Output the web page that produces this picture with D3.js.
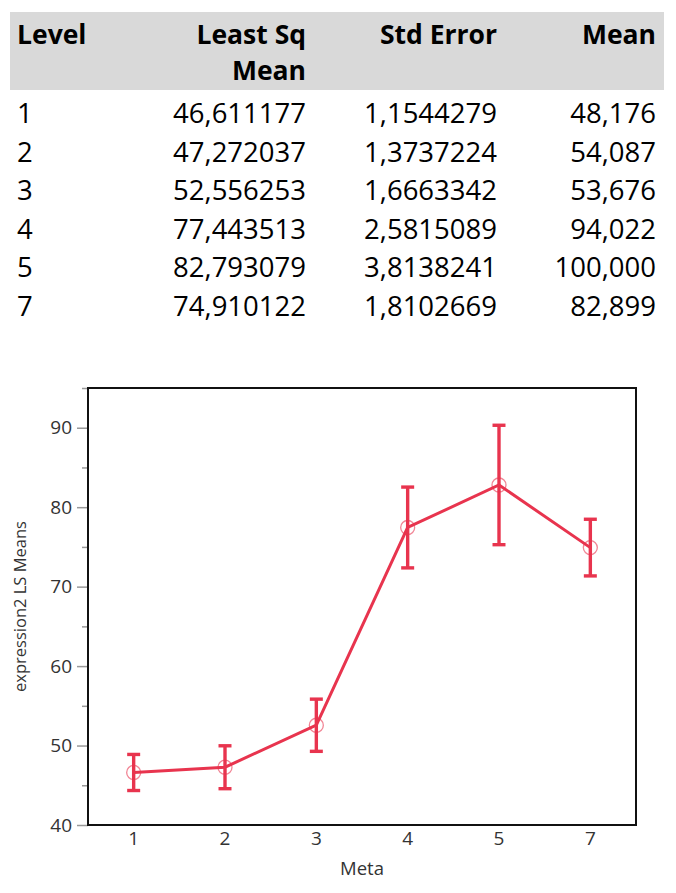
<!DOCTYPE html>
<html><head><meta charset="utf-8">
<script src="https://cdn.jsdelivr.net/npm/d3@7/dist/d3.min.js"></script>
<style>body{margin:0;background:#fff}svg{display:block}</style>
</head><body>
<script>
const levels = ["1","2","3","4","5","7"];
const lsMeanText = ["46,611177","47,272037","52,556253","77,443513","82,793079","74,910122"];
const stdErrText = ["1,1544279","1,3737224","1,6663342","2,5815089","3,8138241","1,8102669"];
const meanText = ["48,176","54,087","53,676","94,022","100,000","82,899"];
const lsMeans = [46.611177, 47.272037, 52.556253, 77.443513, 82.793079, 74.910122];
const ciLower = [44.34, 44.57, 49.27, 72.36, 75.28, 71.35];
const ciUpper = [48.88, 49.97, 55.84, 82.53, 90.31, 78.48];
const yTicks = [40, 50, 60, 70, 80, 90];
const yMinorTicks = [45, 55, 65, 75, 85, 95];

const W = 676, H = 893;
const svg = d3.select("body").append("svg").attr("width", W).attr("height", H);
const font = "'Open Sans', 'Noto Sans', sans-serif";

// ---- table ----
svg.append("rect").attr("x", 10).attr("y", 12).attr("width", 654).attr("height", 78).attr("fill", "#d9d9d9");
const hdr = svg.append("g").attr("font-family", font).attr("font-weight", "bold").attr("font-size", 26.5).attr("fill", "#000");
hdr.append("text").attr("x", 17).attr("y", 44).text("Level");
hdr.append("text").attr("x", 306).attr("y", 44).attr("text-anchor", "end").text("Least Sq");
hdr.append("text").attr("x", 306).attr("y", 80).attr("text-anchor", "end").text("Mean");
hdr.append("text").attr("x", 497).attr("y", 44).attr("text-anchor", "end").text("Std Error");
hdr.append("text").attr("x", 656).attr("y", 44).attr("text-anchor", "end").text("Mean");

const rowY = d3.scalePoint().domain(levels).range([123, 315.5]);
const body = svg.append("g").attr("font-family", font).attr("font-size", 27.5).attr("fill", "#000");
levels.forEach((l, i) => {
  const y = rowY(l);
  body.append("text").attr("x", 17).attr("y", y).text(l);
  body.append("text").attr("x", 306).attr("y", y).attr("text-anchor", "end").text(lsMeanText[i]);
  body.append("text").attr("x", 497).attr("y", y).attr("text-anchor", "end").text(stdErrText[i]);
  body.append("text").attr("x", 656).attr("y", y).attr("text-anchor", "end").text(meanText[i]);
});

// ---- chart ----
const L = 88, R = 636, T = 388, B = 825;
const x = d3.scaleBand().domain(levels).range([L, R]).padding(0);
const y = d3.scaleLinear().domain([40, 95]).range([B, T]);
const cx = d => x(d) + x.bandwidth() / 2;

// y axis
const yAx = svg.append("g").attr("transform", `translate(${L},0)`)
  .call(d3.axisLeft(y).tickValues(yTicks).tickSize(11).tickPadding(5).tickFormat(d3.format("d")));
yAx.select(".domain").remove();
yAx.selectAll("line").attr("stroke", "#999").attr("stroke-width", 1.5);
yAx.selectAll("text").attr("font-family", font).attr("font-size", 19).attr("fill", "#333");
const yMin = svg.append("g").attr("transform", `translate(${L},0)`)
  .call(d3.axisLeft(y).tickValues(yMinorTicks).tickSize(6).tickFormat(""));
yMin.select(".domain").remove();
yMin.selectAll("line").attr("stroke", "#999").attr("stroke-width", 1.5);

// x axis
const xAx = svg.append("g").attr("transform", `translate(0,${B})`)
  .call(d3.axisBottom(x).tickSize(0).tickPadding(6));
xAx.select(".domain").remove();
xAx.selectAll("text").attr("font-family", font).attr("font-size", 19).attr("fill", "#333");

// frame
svg.append("rect").attr("x", L).attr("y", T).attr("width", R - L).attr("height", B - T)
  .attr("fill", "none").attr("stroke", "#111").attr("stroke-width", 2);

// titles
svg.append("text").attr("x", (L + R) / 2).attr("y", 875).attr("text-anchor", "middle")
  .attr("font-family", font).attr("font-size", 18.5).attr("fill", "#333").text("Meta");
svg.append("text").attr("transform", `translate(26,${(T + B) / 2}) rotate(-90)`).attr("text-anchor", "middle")
  .attr("font-family", font).attr("font-size", 16.5).attr("fill", "#333").text("expression2 LS Means");

const red = "#e8344e";
const data = levels.map((l, i) => ({l, m: lsMeans[i], lo: ciLower[i], hi: ciUpper[i]}));

// line
svg.append("path").datum(data)
  .attr("d", d3.line().x(d => cx(d.l)).y(d => y(d.m)))
  .attr("fill", "none").attr("stroke", red).attr("stroke-width", 3);

// error bars
const eb = svg.append("g").attr("stroke", red).attr("stroke-width", 3.4);
data.forEach(d => {
  eb.append("line").attr("x1", cx(d.l)).attr("x2", cx(d.l)).attr("y1", y(d.lo)).attr("y2", y(d.hi));
  eb.append("line").attr("x1", cx(d.l) - 6.5).attr("x2", cx(d.l) + 6.5).attr("y1", y(d.lo)).attr("y2", y(d.lo));
  eb.append("line").attr("x1", cx(d.l) - 6.5).attr("x2", cx(d.l) + 6.5).attr("y1", y(d.hi)).attr("y2", y(d.hi));
});

// markers
svg.append("g").selectAll("circle").data(data).join("circle")
  .attr("cx", d => cx(d.l)).attr("cy", d => y(d.m)).attr("r", 7)
  .attr("fill", "none").attr("stroke", red).attr("stroke-opacity", 0.6).attr("stroke-width", 1.3);
</script>
</body></html>
